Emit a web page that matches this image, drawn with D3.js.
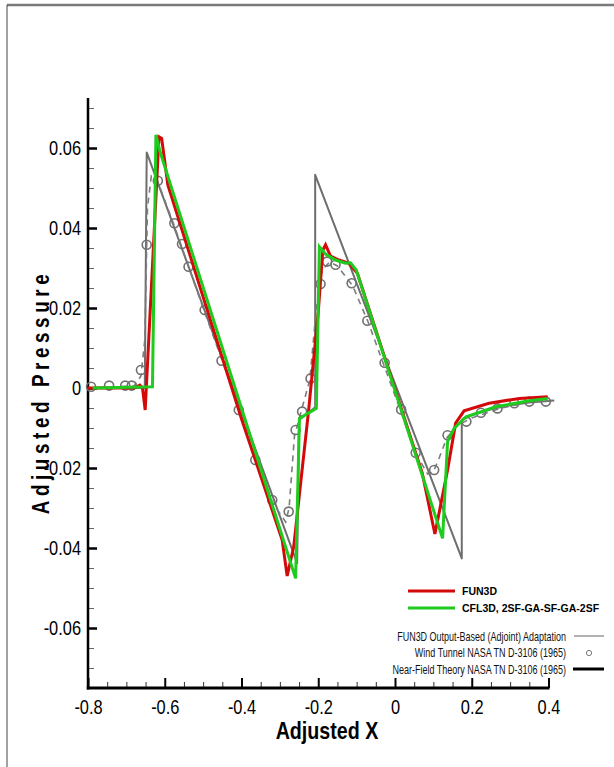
<!DOCTYPE html>
<html>
<head>
<meta charset="utf-8">
<script src="https://cdn.jsdelivr.net/npm/d3@7/dist/d3.min.js"></script>
<style>
  body { margin: 0; background: #fff; }
  svg { display: block; }
</style>
</head>
<body>
<svg id="chart" width="614" height="767"></svg>
<script>
// Axis ticks and their labels
const xTicks = [-0.8, -0.6, -0.4, -0.2, 0, 0.2, 0.4];
const xTickLabels = ["-0.8", "-0.6", "-0.4", "-0.2", "0", "0.2", "0.4"];
const yTicks = [-0.06, -0.04, -0.02, 0, 0.02, 0.04, 0.06];
const yTickLabels = ["-0.06", "-0.04", "-0.02", "0", "0.02", "0.04", "0.06"];

// Near-field theory, NASA TN D-3106 (1965)
const nearField = [
  [-0.8, 0], [-0.652, 0], [-0.647, 0.0589], [-0.255, -0.0438], [-0.25, -0.008],
  [-0.208, -0.0048], [-0.208, 0.0533], [0.174, -0.0426], [0.174, -0.008],
  [0.2, -0.0068], [0.25, -0.0053], [0.3, -0.0043], [0.35, -0.0036], [0.415, -0.0031]
];

// FUN3D output-based (adjoint) adaptation
const adjoint = [
  [-0.8, 0], [-0.68, 0.0005], [-0.662, 0.003], [-0.652, 0.012], [-0.645, 0.045],
  [-0.635, 0.053], [-0.62, 0.052], [-0.575, 0.0405], [-0.5, 0.02], [-0.4, -0.0065],
  [-0.32, -0.0285], [-0.285, -0.0335], [-0.276, -0.03], [-0.262, -0.012], [-0.245, -0.006],
  [-0.222, 0.002], [-0.205, 0.02], [-0.19, 0.0295], [-0.17, 0.0315], [-0.15, 0.0305],
  [-0.13, 0.028], [-0.11, 0.0255], [-0.07, 0.0165], [0.015, -0.0058], [0.055, -0.0165],
  [0.085, -0.0215], [0.1, -0.021], [0.115, -0.0175], [0.135, -0.0125], [0.16, -0.0095],
  [0.2, -0.0075], [0.27, -0.0052], [0.35, -0.0035], [0.415, -0.0031]
];

// Wind tunnel measurements, NASA TN D-3106 (1965)
const windTunnel = [
  [-0.792, 0.0003], [-0.745, 0.0006], [-0.703, 0.0006], [-0.686, 0.0006], [-0.662, 0.0045],
  [-0.647, 0.0358], [-0.618, 0.0518], [-0.575, 0.0412], [-0.555, 0.036], [-0.538, 0.0303],
  [-0.496, 0.0195], [-0.452, 0.0068], [-0.407, -0.0055], [-0.364, -0.018], [-0.32, -0.028],
  [-0.277, -0.0309], [-0.259, -0.0105], [-0.242, -0.0059], [-0.22, 0.0024], [-0.194, 0.026],
  [-0.177, 0.0316], [-0.155, 0.0308], [-0.113, 0.0262], [-0.072, 0.0168], [-0.027, 0.0063],
  [0.016, -0.0054], [0.054, -0.0162], [0.102, -0.0205], [0.137, -0.0118], [0.186, -0.0084],
  [0.224, -0.0062], [0.267, -0.0051], [0.311, -0.0038], [0.35, -0.0034], [0.393, -0.0034]
];

// FUN3D
const fun3d = [
  [-0.8, 0], [-0.68, 0], [-0.665, 0.0007], [-0.658, 0], [-0.651, -0.0055],
  [-0.615, 0.0628], [-0.608, 0.0624], [-0.592, 0.0508], [-0.399, -0.008], [-0.294, -0.038],
  [-0.281, -0.047], [-0.264, -0.0397], [-0.225, -0.0055], [-0.2, 0.019], [-0.188, 0.0345],
  [-0.181, 0.0358], [-0.168, 0.033], [-0.146, 0.032], [-0.12, 0.0312], [-0.098, 0.0287],
  [0.071, -0.0213], [0.104, -0.0365], [0.137, -0.0205], [0.158, -0.0088], [0.18, -0.0057],
  [0.245, -0.0038], [0.324, -0.0026], [0.398, -0.0022]
];

// CFL3D, 2SF-GA-SF-GA-2SF
const cfl3d = [
  [-0.788, 0], [-0.632, 0.0003], [-0.623, 0.0633], [-0.612, 0.059], [-0.259, -0.0476],
  [-0.249, -0.0076], [-0.205, -0.0051], [-0.197, 0.0353], [-0.181, 0.0335], [-0.155, 0.032],
  [-0.129, 0.0312], [-0.116, 0.0313], [-0.101, 0.0295], [0.124, -0.0376], [0.137, -0.0134],
  [0.154, -0.0101], [0.185, -0.0072], [0.263, -0.0047], [0.35, -0.0032], [0.398, -0.0026]
];

const sans = "'Liberation Sans', Arial, sans-serif";
const NARROW = 0.82; // horizontal squeeze giving a condensed face

const svg = d3.select("#chart");

// page frame
svg.append("line").attr("x1", 7).attr("x2", 614).attr("y1", 5).attr("y2", 5)
  .attr("stroke", "#7a7a7a").attr("stroke-width", 2.5);
svg.append("line").attr("x1", 7).attr("x2", 7).attr("y1", 5).attr("y2", 767)
  .attr("stroke", "#444").attr("stroke-width", 1);

const x = d3.scaleLinear().domain([-0.8, 0.4]).range([88, 548.5]);
const y = d3.scaleLinear().domain([-0.075, 0.0725]).range([688, 98]);

const line = d3.line().x(d => x(d[0])).y(d => y(d[1]));

// minor tick positions
const xMinor = d3.range(-0.8, 0.4001, 0.05).map(v => +v.toFixed(3))
  .filter(v => !xTicks.some(t => Math.abs(t - v) < 1e-6));
const yMinor = d3.range(-0.075, 0.0701, 0.005).map(v => +v.toFixed(4))
  .filter(v => !yTicks.some(t => Math.abs(t - v) < 1e-6));

// x axis
svg.append("g").attr("transform", `translate(0,${y(-0.075)})`)
  .call(d3.axisBottom(x).tickValues(xMinor).tickSize(-6).tickFormat(""))
  .call(g => g.select(".domain").remove())
  .call(g => g.selectAll(".tick line").attr("stroke", "#333").attr("stroke-width", 1));
svg.append("g").attr("transform", `translate(0,${y(-0.075)})`)
  .call(d3.axisBottom(x).tickValues(xTicks).tickSize(-10).tickPadding(12)
    .tickFormat((d, i) => xTickLabels[i]))
  .call(g => g.select(".domain").remove())
  .call(g => g.selectAll(".tick line").attr("stroke", "#000").attr("stroke-width", 2))
  .call(g => g.selectAll(".tick text").attr("font-family", sans).attr("font-size", 20)
    .attr("fill", "#000").attr("transform", `scale(${NARROW},1)`));

// y axis
svg.append("g").attr("transform", `translate(${x(-0.8)},0)`)
  .call(d3.axisLeft(y).tickValues(yMinor).tickSize(-6).tickFormat(""))
  .call(g => g.select(".domain").remove())
  .call(g => g.selectAll(".tick line").attr("stroke", "#666").attr("stroke-width", 1));
svg.append("g").attr("transform", `translate(${x(-0.8)},0)`)
  .call(d3.axisLeft(y).tickValues(yTicks).tickSize(-9).tickPadding(6)
    .tickFormat((d, i) => yTickLabels[i]))
  .call(g => g.select(".domain").remove())
  .call(g => g.selectAll(".tick line").attr("stroke", "#000").attr("stroke-width", 2.5))
  .call(g => g.selectAll(".tick text").each(function () {
    const t = d3.select(this);
    const x0 = +t.attr("x");
    t.attr("x", 0).attr("transform", `translate(${x0 - 1},0) scale(${NARROW},1)`)
      .attr("font-family", sans).attr("font-size", 20).attr("fill", "#000");
  }));

// axis lines
svg.append("line").attr("x1", x(-0.8)).attr("x2", x(-0.8))
  .attr("y1", y(0.0725)).attr("y2", y(-0.075) + 1.5)
  .attr("stroke", "#000").attr("stroke-width", 2.5);
svg.append("line").attr("x1", x(-0.8) - 1.2).attr("x2", x(0.4) + 1)
  .attr("y1", y(-0.075)).attr("y2", y(-0.075))
  .attr("stroke", "#000").attr("stroke-width", 3);

// axis titles
svg.append("text").attr("transform", `translate(327,739) scale(${NARROW},1)`)
  .attr("text-anchor", "middle").attr("font-family", sans).attr("font-weight", "bold")
  .attr("font-size", 24).attr("fill", "#000").text("Adjusted X");
svg.append("text").attr("transform", `translate(49,392) rotate(-90) scale(${NARROW},1)`)
  .attr("text-anchor", "middle").attr("font-family", sans).attr("font-weight", "bold")
  .attr("font-size", 23).attr("letter-spacing", 5.6).attr("fill", "#000")
  .text("Adjusted Pressure");

// reference curves
const plot = svg.append("g");
plot.append("path").datum(nearField).attr("d", line).attr("fill", "none")
  .attr("stroke", "#6e6e6e").attr("stroke-width", 2).attr("stroke-linejoin", "round");
plot.append("path").datum(adjoint).attr("d", line).attr("fill", "none")
  .attr("stroke", "#7c7c7c").attr("stroke-width", 1.6).attr("stroke-dasharray", "6,5");
plot.selectAll("circle.wt").data(windTunnel).join("circle").attr("class", "wt")
  .attr("cx", d => x(d[0])).attr("cy", d => y(d[1])).attr("r", 4.5)
  .attr("fill", "none").attr("stroke", "#707070").attr("stroke-width", 1.6);

// CFD curves
plot.append("path").datum(fun3d).attr("d", line).attr("fill", "none")
  .attr("stroke", "#d40a0a").attr("stroke-width", 3).attr("stroke-linejoin", "miter");
plot.append("path").datum(cfl3d).attr("d", line).attr("fill", "none")
  .attr("stroke", "#1ecb1e").attr("stroke-width", 3).attr("stroke-linejoin", "miter");

// legend: CFD curves
const leg = svg.append("g");
[["FUN3D", "#d40a0a", 591], ["CFL3D, 2SF-GA-SF-GA-2SF", "#1ecb1e", 608]].forEach(([t, c, yy]) => {
  leg.append("line").attr("x1", 408).attr("x2", 455).attr("y1", yy).attr("y2", yy)
    .attr("stroke", c).attr("stroke-width", 3);
  leg.append("text").attr("x", 462).attr("y", yy).attr("dy", "0.36em")
    .attr("font-family", sans).attr("font-weight", "bold").attr("font-size", 10.5)
    .attr("fill", "#000").text(t);
});

// legend: reference data (condensed, right-aligned)
const refRows = [
  ["FUN3D Output-Based (Adjoint) Adaptation", 636],
  ["Wind Tunnel NASA TN D-3106 (1965)", 652],
  ["Near-Field Theory NASA TN D-3106 (1965)", 669]
];
refRows.forEach(([t, yy]) => {
  leg.append("text").attr("transform", `translate(566,${yy}) scale(0.72,1)`)
    .attr("dy", "0.36em").attr("text-anchor", "end").attr("font-family", sans)
    .attr("font-size", 12.5).attr("fill", "#111").text(t);
});
leg.append("line").attr("x1", 574).attr("x2", 604).attr("y1", 636).attr("y2", 636)
  .attr("stroke", "#888").attr("stroke-width", 1.3);
leg.append("circle").attr("cx", 589).attr("cy", 653).attr("r", 2.6)
  .attr("fill", "none").attr("stroke", "#777").attr("stroke-width", 1);
leg.append("line").attr("x1", 573).attr("x2", 604).attr("y1", 669).attr("y2", 669)
  .attr("stroke", "#000").attr("stroke-width", 3);
</script>
</body>
</html>
